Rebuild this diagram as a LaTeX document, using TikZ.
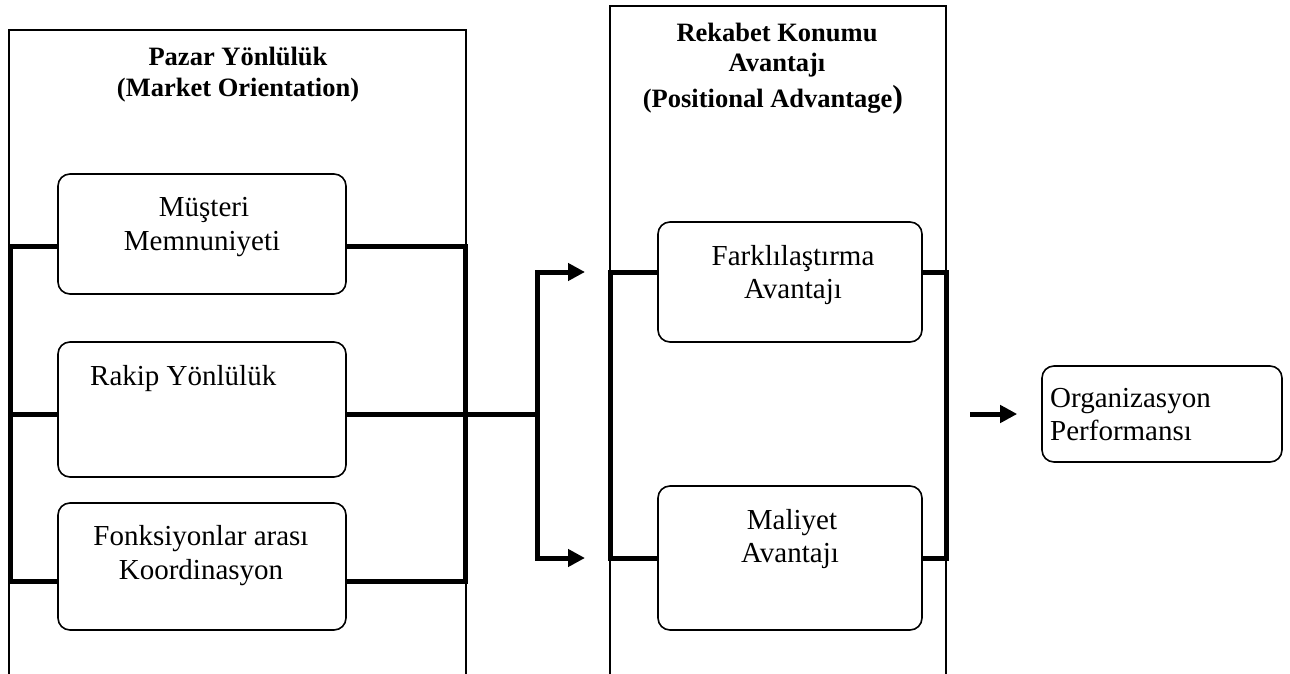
\documentclass[tikz,border=0pt]{standalone}
\usepackage{fontspec}
\setmainfont{Liberation Serif}
\usetikzlibrary{arrows.meta}
\begin{document}
\begin{tikzpicture}[x=1pt,y=-1pt,
  panel/.style={line width=1.3pt},
  card/.style={draw,rounded corners=12pt,line width=1.6pt,inner sep=0pt},
  link/.style={line width=5pt,line join=miter},
  flow/.style={line width=5pt,line join=miter,-{Triangle[length=17pt,width=17pt]}},
  body/.style={font=\fontsize{29}{34}\selectfont,anchor=base,inner sep=0pt},
  head/.style={font=\fontsize{26.5}{32}\selectfont\bfseries,anchor=base,inner sep=0pt}]
\useasboundingbox (0,0) rectangle (1290,674);

% open-bottomed panels
\draw[panel] (9,674) -- (9,30) -- (466,30) -- (466,674);
\draw[panel] (610,674) -- (610,6) -- (946,6) -- (946,674);

% panel headings
\node[head] (h1a) at (238,66) {Pazar Yönlülük};
\node[head] (h1b) at (238,97) {(Market Orientation)};
\node[head] (h2a) at (777,42) {Rekabet Konumu};
\node[head] (h2b) at (777,72) {Avantajı};
\node[head] (h2c) at (773,108) {(Positional Advantage{\fontsize{32}{32}\selectfont)}};

% market orientation components
\node[card,minimum width=288pt,minimum height=120pt] (m1) at (202,234) {};
\node[card,minimum width=288pt,minimum height=135pt] (m2) at (202,409.5) {};
\node[card,minimum width=288pt,minimum height=127pt] (m3) at (202,566.5) {};
\node[body] (m1a) at (204,216) {Müşteri};
\node[body] (m1b) at (202,250) {Memnuniyeti};
\node[body,anchor=base west] (m2a) at (90,385) {Rakip Yönlülük};
\node[body] (m3a) at (201,545) {Fonksiyonlar arası};
\node[body] (m3b) at (201,579) {Koordinasyon};

% positional advantage components
\node[card,minimum width=264pt,minimum height=120pt] (f1) at (790,282) {};
\node[card,minimum width=264pt,minimum height=144pt] (f2) at (790,558) {};
\node[body] (f1a) at (793,265) {Farklılaştırma};
\node[body] (f1b) at (793,298) {Avantajı};
\node[body] (f2a) at (792,529) {Maliyet};
\node[body] (f2b) at (790,562) {Avantajı};

% outcome
\node[card,minimum width=240pt,minimum height=96pt] (org) at (1162,414) {};
\node[body,anchor=base west] (oa1) at (1050,407) {Organizasyon};
\node[body,anchor=base west] (oa2) at (1050,440) {Performansı};

% left bus
\coordinate (la) at (10,246);
\coordinate (lb) at (10,414);
\coordinate (lc) at (10,581);
\coordinate (ra) at (465,246);
\coordinate (rb) at (465,414);
\coordinate (rc) at (465,581);
\draw[link] (m1.west |- la) -- (la) -- (lc) -- (m3.west |- lc);
\draw[link] (lb) -- (m2.west |- lb);
\draw[link] (m1.east |- ra) -- (ra) -- (rc) -- (m3.east |- rc);
\draw[link] (m2.east |- rb) -- (rb);

% fork into the positional advantage panel
\coordinate (fk) at (537,414);
\coordinate (ta) at (585,272);
\coordinate (tb) at (585,558);
\draw[link] (rb) -- (fk);
\draw[flow] (fk) |- (ta);
\draw[flow] (fk) |- (tb);

% right bus
\coordinate (pa) at (610,272);
\coordinate (pb) at (610,558);
\coordinate (qa) at (946,272);
\coordinate (qb) at (946,558);
\draw[link] (f1.west |- pa) -- (pa) -- (pb) -- (f2.west |- pb);
\draw[link] (f1.east |- qa) -- (qa) -- (qb) -- (f2.east |- qb);

% arrow to performance
\coordinate (os) at (970,414);
\draw[flow] (os) -- ([xshift=-24pt]org.west);
\end{tikzpicture}
\end{document}
